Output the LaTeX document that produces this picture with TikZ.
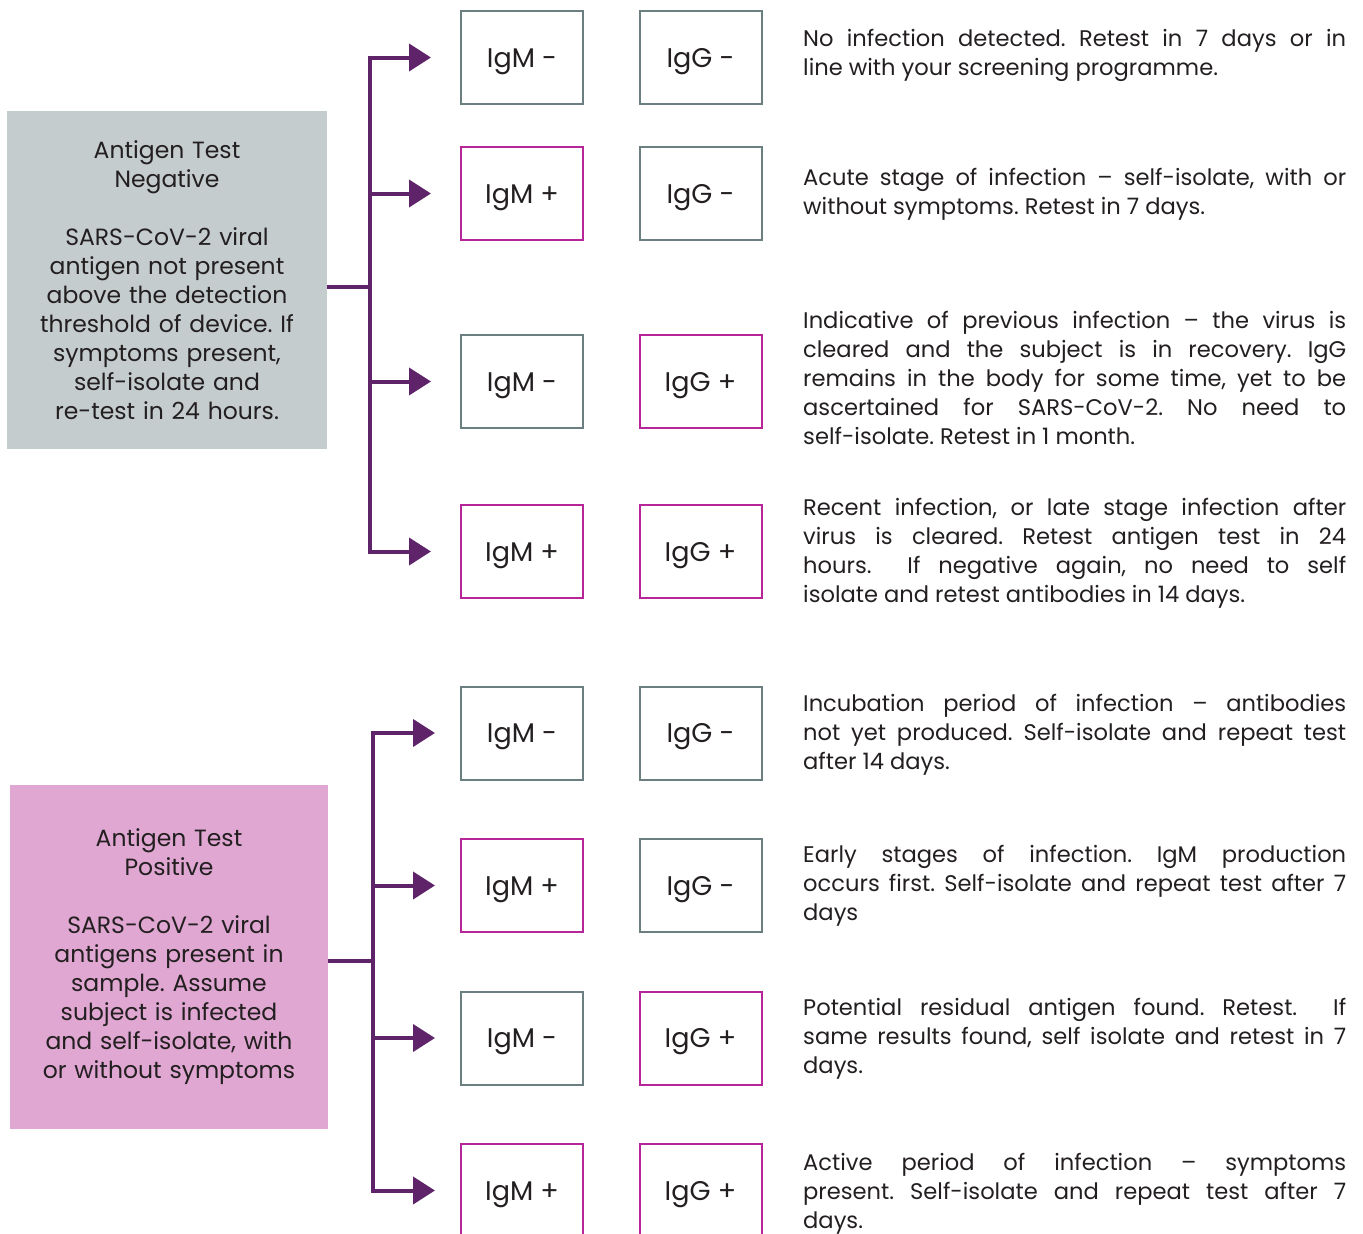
\documentclass[tikz,border=0pt]{standalone}
\usepackage{fontspec}
\setmainfont{Poppins}
\usetikzlibrary{arrows.meta}
\definecolor{branch}{RGB}{94,35,104}
\definecolor{posline}{RGB}{182,38,152}
\definecolor{negline}{RGB}{108,127,128}
\definecolor{negfill}{RGB}{197,204,205}
\definecolor{posfill}{RGB}{223,167,209}
\definecolor{ink}{RGB}{35,31,32}
\tolerance=9999
\hyphenpenalty=10000
\frenchspacing
\tikzset{
  result/.style={draw, line width=2pt, minimum width=122pt, minimum height=93pt,
    text=ink, text height=19pt, text depth=0pt, font=\fontsize{27}{30}\selectfont},
  igneg/.style={result, draw=negline},
  igpos/.style={result, draw=posline},
  antigen/.style={text=ink, text width=314pt, align=center, inner sep=0pt,
    font=\fontsize{23.5}{29}\selectfont},
  note/.style={anchor=west, text=ink, text width=543pt, align=justify, inner sep=0pt,
    font=\fontsize{22.6}{29}\selectfont},
  link/.style={branch, line width=4pt},
  arr/.style={link, -{Triangle[length=22pt, width=27pt]}, shorten >=29pt}
}
\begin{document}
\begin{tikzpicture}[x=1pt, y=-1pt]
  \useasboundingbox (0,0) rectangle (1363,1234);
  % antigen test boxes
  \node[antigen, fill=negfill, minimum width=320pt, minimum height=338pt] (tneg) at (167,280)
    {Antigen Test\\Negative\\[29pt]SARS-CoV-2 viral\\antigen not present\\above the detection\\threshold of device. If\\symptoms present,\\self-isolate and\\re-test in 24 hours.};
  \node[antigen, fill=posfill, minimum width=318pt, minimum height=344pt] (tpos) at (169,957)
    {Antigen Test\\Positive\\[29pt]SARS-CoV-2 viral\\antigens present in\\sample. Assume\\subject is infected\\and self-isolate, with\\or without symptoms};
  % antibody results
  \node[igneg] (m1) at (522,57.5) {IgM -};    \node[igneg] (g1) at (700.5,57.5) {IgG -};
  \node[igpos] (m2) at (522,193.5) {IgM +};   \node[igneg] (g2) at (700.5,193.5) {IgG -};
  \node[igneg] (m3) at (522,381.5) {IgM -};   \node[igpos] (g3) at (700.5,381.5) {IgG +};
  \node[igpos] (m4) at (522,551.5) {IgM +};   \node[igpos] (g4) at (700.5,551.5) {IgG +};
  \node[igneg] (m5) at (522,733) {IgM -};     \node[igneg] (g5) at (700.5,733) {IgG -};
  \node[igpos] (m6) at (522,885.5) {IgM +};   \node[igneg] (g6) at (700.5,885.5) {IgG -};
  \node[igneg] (m7) at (522,1038) {IgM -};    \node[igpos] (g7) at (700.5,1038) {IgG +};
  \node[igpos] (m8) at (522,1190.5) {IgM +};  \node[igpos] (g8) at (700.5,1190.5) {IgG +};
  % what it means
  \node[note] (n1) at (803,55) {No infection detected. Retest in 7 days or in\linebreak line with your screening programme.};
  \node[note] (n2) at (803,194) {Acute stage of infection -- self-isolate, with or\linebreak without symptoms. Retest in 7 days.};
  \node[note] (n3) at (803,377.5) {Indicative of previous infection -- the virus is\linebreak cleared and the subject is in recovery. IgG\linebreak remains in the body for some time, yet to be\linebreak ascertained for SARS-CoV-2. No need to\linebreak self-isolate. Retest in 1 month.};
  \node[note] (n4) at (803,553) {Recent infection, or late stage infection after\linebreak virus is cleared. Retest antigen test in 24\linebreak hours.\ \ If negative again, no need to self\linebreak isolate and retest antibodies in 14 days.};
  \node[note] (n5) at (803,734.5) {Incubation period of infection -- antibodies\linebreak not yet produced. Self-isolate and repeat test\linebreak after 14 days.};
  \node[note] (n6) at (803,885.5) {Early stages of infection. IgM production\linebreak occurs first. Self-isolate and repeat test after 7\linebreak days};
  \node[note] (n7) at (803,1038.5) {Potential residual antigen found. Retest.\ \ If\linebreak same results found, self isolate and retest in 7\linebreak days.};
  \node[note] (n8) at (803,1193.5) {Active period of infection -- symptoms\linebreak present. Self-isolate and repeat test after 7\linebreak days.};
  % branches
  \coordinate (jneg) at (370,287);
  \coordinate (jpos) at (373,961);
  \draw[link] (tneg.east |- jneg) -- (jneg);
  \draw[arr] (jneg) |- (m1.west);
  \draw[arr] (jneg) |- (m4.west);
  \draw[arr] (jneg |- m2) -- (m2.west);
  \draw[arr] (jneg |- m3) -- (m3.west);
  \draw[link] (tpos.east |- jpos) -- (jpos);
  \draw[arr, shorten >=25pt] (jpos) |- (m5.west);
  \draw[arr, shorten >=25pt] (jpos) |- (m8.west);
  \draw[arr, shorten >=25pt] (jpos |- m6) -- (m6.west);
  \draw[arr, shorten >=25pt] (jpos |- m7) -- (m7.west);
\end{tikzpicture}
\end{document}
